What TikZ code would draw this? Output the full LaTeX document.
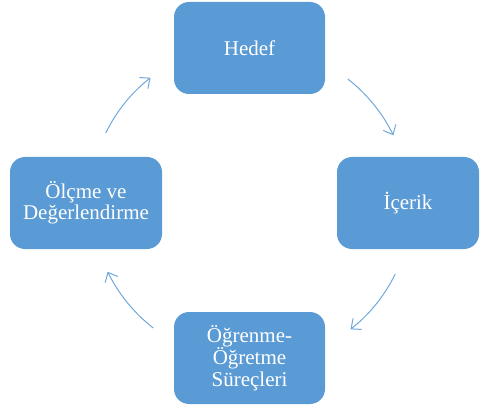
\documentclass[tikz,border=0pt]{standalone}
\usepackage{fontspec}
\setmainfont{Liberation Serif}
\usetikzlibrary{arrows.meta}
\definecolor{boxblue}{HTML}{5B9BD5}
\definecolor{arrowblue}{HTML}{70A8DC}
\begin{document}
\begin{tikzpicture}[x=1pt,y=1pt,
  stage/.style={fill=boxblue, draw=none, rounded corners=15pt,
    minimum width=151pt, minimum height=92pt, inner sep=0pt,
    text=white, align=center,
    font=\fontsize{21}{21.5}\selectfont},
  cycle/.style={draw=arrowblue, line width=1pt,
    -{Straight Barb[length=8pt,width=14pt,line width=1pt]}}]
  \useasboundingbox (0,0) rectangle (480,408);
  % the four stages of the cycle
  \node[stage] (hedef) at (249.5,360) {Hedef};
  \node[stage, minimum width=142pt] (icerik) at (408,205) {İçerik};
  \node[stage] (surec) at (249.5,50) {Öğrenme-\\Öğretme\\Süreçleri};
  \node[stage, minimum width=152pt] (olcme) at (86,205) {Ölçme ve\\Değerlendirme};
  % curved arrows on a circle round the middle
  \coordinate (mid) at (250.5,204.5);
  \draw[cycle] (mid) ++(52:158) arc[start angle=52, end angle=26, radius=161];
  \draw[cycle] (mid) ++(-26:161) arc[start angle=-26, end angle=-52, radius=158];
  \draw[cycle] (mid) ++(232:158) arc[start angle=232, end angle=206, radius=161];
  \draw[cycle] (mid) ++(154:161) arc[start angle=154, end angle=128, radius=158];
\end{tikzpicture}
\end{document}
